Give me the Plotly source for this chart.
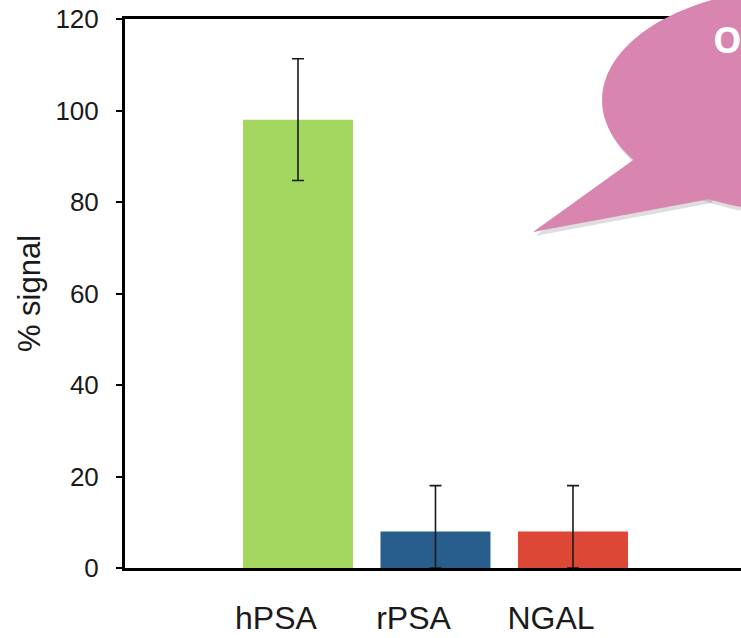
import plotly.graph_objects as go

categories = ["hPSA", "rPSA", "NGAL"]
values = [98, 8, 8]
err_plus = [13.3, 10, 10]
err_minus = [13.3, 8, 8]
bar_colors = ["#a3d760", "#285e8b", "#dc4835"]
y_ticks = [0, 20, 40, 60, 80, 100, 120]

W, H = 741, 638
L, R, T, B = 125, 741, 19, 568

def px(x):
    return (x - L) / (R - L)

def py(y):
    return (B - y) / (B - T)

fig = go.Figure()
fig.add_trace(go.Bar(
    x=categories, y=values, width=0.8,
    marker=dict(color=bar_colors, line=dict(width=0)),
    error_y=dict(type="data", symmetric=False, array=err_plus, arrayminus=err_minus,
                 color="#1a1a1a", thickness=1.6, width=6),
    showlegend=False,
))

pink = "#d886b0"
shadow = "rgba(0,0,0,0.13)"

def bubble(color, dx, dy):
    shapes = []
    shapes.append(dict(type="circle", xref="paper", yref="paper",
                       x0=px(602 + dx), x1=px(1012 + dx), y0=py(213 + dy), y1=py(-13 + dy),
                       fillcolor=color, line=dict(width=0), layer="above"))
    path = "M {:.4f} {:.4f} L {:.4f} {:.4f} L {:.4f} {:.4f} L {:.4f} {:.4f} Z".format(
        px(636 + dx), py(158 + dy), px(533 + dx), py(232 + dy),
        px(710 + dx), py(199 + dy), px(720 + dx), py(150 + dy))
    shapes.append(dict(type="path", xref="paper", yref="paper", path=path,
                       fillcolor=color, line=dict(width=0), layer="above"))
    return shapes

shapes = bubble(shadow, 2, 4) + bubble(pink, 0, 0)

fig.update_layout(
    width=W, height=H,
    margin=dict(l=L, r=W - R, t=T, b=H - B),
    paper_bgcolor="white", plot_bgcolor="white",
    font=dict(family="Liberation Sans, Arial, sans-serif", color="#1a1a1a"),
    bargap=0.2,
    shapes=shapes,
    annotations=[dict(text="<b>O</b>", xref="paper", yref="paper",
                      x=px(711), y=py(39), xanchor="left", yanchor="middle",
                      showarrow=False,
                      font=dict(family="Open Sans, sans-serif", size=36, color="white"))],
    xaxis=dict(
        type="category", range=[-1.258, 3.222],
        showline=True, linecolor="black", linewidth=3, mirror=True,
        ticks="", showgrid=False, zeroline=False,
        tickfont=dict(size=32, color="#1a1a1a"),
        ticklabelstandoff=20,
        ticklabelshift=-22,
    ),
    yaxis=dict(
        range=[0, 120], tickvals=y_ticks,
        showline=True, linecolor="black", linewidth=3, mirror=False,
        ticks="outside", ticklen=6, tickwidth=2, tickcolor="black",
        showgrid=False, zeroline=False,
        tickfont=dict(size=26, color="#1a1a1a"),
        ticklabelstandoff=12,
        title=dict(text="% signal", font=dict(size=31, color="#1a1a1a"), standoff=6),
    ),
)

fig.write_html("out.html", config={"displayModeBar": False},
               post_script="document.body.style.margin='0';document.body.style.overflow='hidden';")
